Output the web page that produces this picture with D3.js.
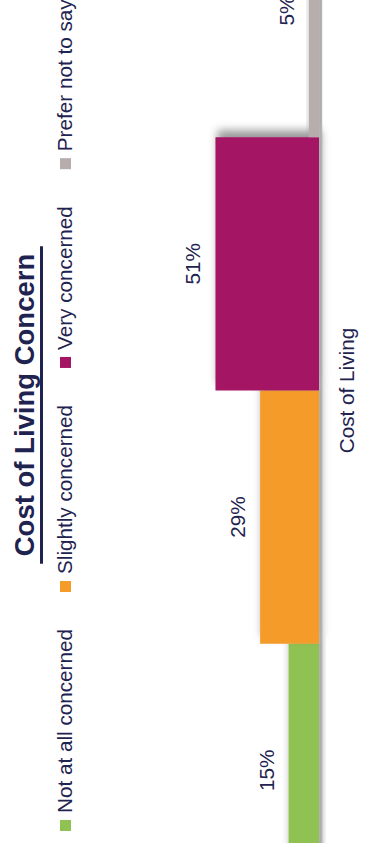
<!DOCTYPE html>
<html>
<head>
<meta charset="utf-8">
<script src="https://cdn.jsdelivr.net/npm/d3@7"></script>
<style>
  html, body { margin: 0; padding: 0; background: #ffffff; }
  svg { display: block; }
  text { font-family: "Liberation Sans", Arial, sans-serif; fill: #1f2350; }
</style>
</head>
<body>
<svg id="chart"></svg>
<script>
// Survey result: one category, four answer groups
const title = "Cost of Living Concern";
const categories = ["Cost of Living"];
const series = ["Not at all concerned", "Slightly concerned", "Very concerned", "Prefer not to say"];
const values = [15, 29, 51, 5];
const colors = ["#8fc153", "#f49b2a", "#a41563", "#b7adac"];

const viewW = 366, viewH = 843;
// The chart is laid out landscape and turned a quarter-turn so it reads bottom-to-top.

const svg = d3.select("#chart").attr("width", viewW).attr("height", viewH);

const defs = svg.append("defs");
const shadow = defs.append("filter").attr("id", "barShadow")
  .attr("x", "-20%").attr("y", "-20%").attr("width", "140%").attr("height", "140%");
shadow.append("feDropShadow")
  .attr("dx", 7).attr("dy", 2).attr("stdDeviation", 4)
  .attr("flood-color", "#000").attr("flood-opacity", 0.4);

const g = svg.append("g").attr("transform", `translate(0,${viewH}) rotate(-90)`);

const baseY = 319;
const x0 = d3.scaleBand().domain(categories).range([-54, 959]).padding(0);
const x1 = d3.scaleBand().domain(series).range([0, x0.bandwidth()]).padding(0);
const y = d3.scaleLinear().domain([0, 100]).range([baseY, baseY - 203]);
const color = d3.scaleOrdinal().domain(series).range(colors);

// Category axis with a light base line
const axis = g.append("g")
  .attr("transform", `translate(0,${baseY + 1.5})`)
  .call(d3.axisBottom(x0).tickSize(0).tickSizeOuter(0).tickPadding(18.8));
axis.select(".domain").attr("stroke", "#dddddd").attr("stroke-width", 3);
axis.selectAll("text")
  .attr("font-size", "20.7px")
  .attr("font-family", "Liberation Sans, Arial, sans-serif")
  .attr("fill", "#1f2350");

// Bars
const rows = series.map((s, i) => ({ cat: categories[0], key: s, value: values[i] }));
const bars = g.append("g").selectAll("g").data(rows).join("g");
bars.append("rect")
  .attr("x", d => x0(d.cat) + x1(d.key))
  .attr("y", d => y(d.value))
  .attr("width", x1.bandwidth())
  .attr("height", d => y(0) - y(d.value))
  .attr("fill", d => color(d.key))
  .attr("filter", "url(#barShadow)");

// Value labels
g.append("g").selectAll("text").data(rows).join("text")
  .attr("x", d => x0(d.cat) + x1(d.key) + x1.bandwidth() / 2)
  .attr("y", d => y(d.value) - 15)
  .attr("text-anchor", "middle")
  .attr("font-size", "20.7px")
  .text(d => d.value + "%");

// Title with underline
const titleText = g.append("text")
  .attr("x", 438).attr("y", 33.5)
  .attr("text-anchor", "middle")
  .attr("font-size", "27.5px")
  .attr("font-weight", "bold")
  .text(title);
const tw = titleText.node().getComputedTextLength();
g.append("line")
  .attr("x1", 438 - tw / 2 - 7.5).attr("x2", 438 + tw / 2 + 7.5)
  .attr("y1", 41.5).attr("y2", 41.5)
  .attr("stroke", "#1f2350").attr("stroke-width", 3);

// Legend
const legend = g.append("g");
let lx = 12;
series.forEach((s, i) => {
  legend.append("rect")
    .attr("x", lx).attr("y", 60).attr("width", 11).attr("height", 11)
    .attr("fill", color(s));
  const t = legend.append("text")
    .attr("x", lx + 18).attr("y", 71.7)
    .attr("font-size", "20.7px")
    .text(s);
  lx += 18 + t.node().getComputedTextLength() + 37;
});
</script>
</body>
</html>
